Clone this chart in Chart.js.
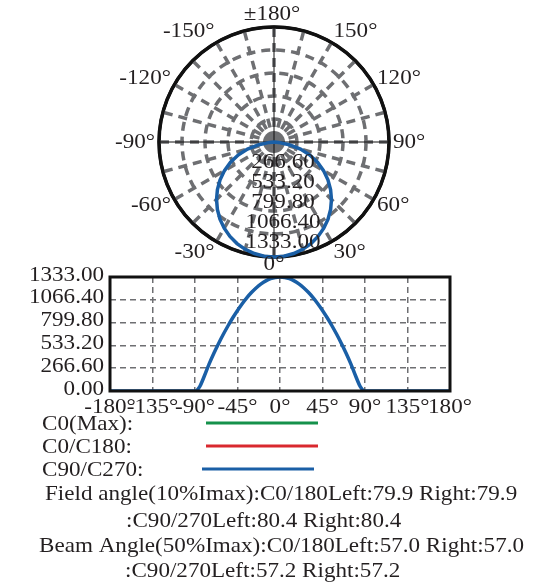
<!DOCTYPE html>
<html>
<head>
<meta charset="utf-8">
<script src="https://cdn.jsdelivr.net/npm/chart.js@4.4.0/dist/chart.umd.min.js"></script>
<style>
  html, body { margin: 0; padding: 0; background: #fff; }
  #wrap { position: relative; width: 556px; height: 582px; overflow: hidden; }
  canvas { position: absolute; left: 0; }
</style>
</head>
<body>
<div id="wrap">
  <canvas id="polar" width="556" height="272" style="top:0"></canvas>
  <canvas id="curve" width="556" height="322" style="top:260px"></canvas>
</div>
<script>
// gamma angles, degrees
const angles = [-180, -175, -170, -165, -160, -155, -150, -145, -140, -135, -130, -125, -120, -115, -110, -105, -100, -95,
  -90, -85, -80, -75, -70, -65, -60, -55, -50, -45, -40, -35, -30, -25, -20, -15, -10, -5,
  0, 5, 10, 15, 20, 25, 30, 35, 40, 45, 50, 55, 60, 65, 70, 75, 80, 85,
  90, 95, 100, 105, 110, 115, 120, 125, 130, 135, 140, 145, 150, 155, 160, 165, 170, 175, 180]

// intensity (cd)
const c90c270 = [0, 0, 0, 0, 0, 0, 0, 0, 0, 0, 0, 0, 0, 0, 0, 0, 0, 0,
  0, 52, 178, 318, 442, 556, 663, 763, 856, 942, 1021, 1092, 1154, 1208, 1253, 1288, 1313, 1328,
  1333, 1328, 1313, 1288, 1253, 1208, 1154, 1092, 1021, 942, 856, 763, 663, 556, 442, 318, 178, 52,
  0, 0, 0, 0, 0, 0, 0, 0, 0, 0, 0, 0, 0, 0, 0, 0, 0, 0, 0]
const c0c180 = [0, 0, 0, 0, 0, 0, 0, 0, 0, 0, 0, 0, 0, 0, 0, 0, 0, 0,
  0, 48, 173, 313, 437, 551, 658, 759, 854, 941, 1022, 1094, 1157, 1211, 1255, 1290, 1314, 1328,
  1333, 1328, 1314, 1290, 1255, 1211, 1157, 1094, 1022, 941, 854, 759, 658, 551, 437, 313, 173, 48,
  0, 0, 0, 0, 0, 0, 0, 0, 0, 0, 0, 0, 0, 0, 0, 0, 0, 0, 0]
const c0Max = c0c180

const valueTicks = [0, 266.6, 533.2, 799.8, 1066.4, 1333]
const angleTicks = [-180, -135, -90, -45, 0, 45, 90, 135, 180]

const seriesNames = ['C0(Max):', 'C0/C180:', 'C90/C270:']
const seriesColors = ['#15914b', '#d9282e', '#1a5fa6']

const footText = [
  'Field angle(10%Imax):C0/180Left:79.9 Right:79.9',
  ':C90/270Left:80.4 Right:80.4',
  'Beam Angle(50%Imax):C0/180Left:57.0 Right:57.0',
  ':C90/270Left:57.2 Right:57.2'
]

const grey = '#6e6f72'
const ink = '#231f20'
const FONT = '21px "Liberation Serif", "Times New Roman", serif'
const SX = 1.1

function textW(ctx, t) {
  ctx.font = FONT
  return ctx.measureText(t).width * SX
}
// stretched text, looks like the wide times of the original
function putText(ctx, t, x, y, align) {
  ctx.save()
  ctx.font = FONT
  ctx.fillStyle = ink
  ctx.textBaseline = 'middle'
  ctx.textAlign = 'left'
  let w = textW(ctx, t)
  let x0 = align === 'center' ? x - w / 2 : align === 'right' ? x - w : x
  ctx.translate(x0, y)
  ctx.scale(SX, 1)
  ctx.fillText(t, 0, 0)
  ctx.restore()
}

// ---------- polar ----------
// radar goes clockwise from the bottom: 0, -5 ... -180, 175 ... 5
const zeroAt = angles.indexOf(0)
const order = []
for (let i = zeroAt; i >= 0; i--) order.push(i)
for (let i = angles.length - 2; i > zeroAt; i--) order.push(i)
const polarLabels = order.map(i => Math.abs(angles[i]) === 180 ? '±180°' : angles[i] + '°')

const polarDeco = {
  id: 'polarDeco',
  beforeDatasetsDraw(chart) {
    const s = chart.scales.r, ctx = chart.ctx
    const R = s.drawingArea
    ctx.save()
    ctx.fillStyle = grey
    ctx.beginPath()
    ctx.arc(s.xCenter, s.yCenter, 11, 0, Math.PI * 2)
    ctx.fill()
    ctx.strokeStyle = '#111'
    ctx.lineWidth = 1
    ctx.beginPath()
    ctx.moveTo(s.xCenter - R, s.yCenter)
    ctx.lineTo(s.xCenter + R, s.yCenter)
    ctx.moveTo(s.xCenter, s.yCenter - R)
    ctx.lineTo(s.xCenter, s.yCenter + R)
    ctx.stroke()
    ctx.lineWidth = 3
    ctx.beginPath()
    ctx.arc(s.xCenter, s.yCenter, R, 0, Math.PI * 2)
    ctx.stroke()
    ctx.restore()
  },
  afterDraw(chart) {
    const s = chart.scales.r, ctx = chart.ctx
    chart.data.labels.forEach((lab, i) => {
      if (i % 6 !== 0) return
      const p = s.getPointPosition(i, s.drawingArea + 4)
      const dx = Math.cos(p.angle), dy = Math.sin(p.angle)
      let x = p.x, y = p.y + dy * 8.5
      let w = textW(ctx, lab)
      if (Math.abs(dx) > 0.05) x += dx > 0 ? w / 2 : -w / 2
      else if (dy > 0) y -= 5
      else x -= 2
      putText(ctx, lab, x, y, 'center')
    })
    valueTicks.forEach((v, k) => {
      if (!k) return
      const d = s.getDistanceFromCenterForValue(v)
      putText(ctx, v.toFixed(2), s.xCenter + 9, s.yCenter + d * 0.87, 'center')
    })
  }
}

const lastTick = valueTicks.length - 1
new Chart(document.getElementById('polar'), {
  type: 'radar',
  data: {
    labels: polarLabels,
    datasets: [
      {label: 'C90/C270', data: order.map(i => c90c270[i]), borderColor: seriesColors[2], borderWidth: 3.5},
      {label: 'C0/C180', data: order.map(i => c0c180[i]), borderColor: seriesColors[1], borderWidth: 1.5},
      {label: 'C0(Max)', data: order.map(i => c0Max[i]), borderColor: seriesColors[0], borderWidth: 1.5}
    ]
  },
  options: {
    responsive: false,
    animation: false,
    layout: {padding: {left: 159, top: 27, right: 167, bottom: 15}},
    elements: {point: {radius: 0}, line: {tension: 0, fill: false}},
    plugins: {legend: {display: false}, tooltip: {enabled: false}},
    scales: {
      r: {
        min: 0,
        max: 1333,
        startAngle: 180,
        afterBuildTicks: (s) => { s.ticks = valueTicks.map(v => ({value: v})) },
        ticks: {display: false},
        pointLabels: {display: false},
        grid: {
          circular: true,
          lineWidth: 3.5,
          color: (c) => c.index === lastTick ? '#111' : grey
        },
        border: {dash: (c) => c.index === lastTick ? [] : [9, 6]},
        angleLines: {
          color: grey,
          lineWidth: (c) => c.index % 3 === 0 ? 3.5 : 0,
          borderDash: [9, 6]
        }
      }
    }
  },
  plugins: [polarDeco]
})

// ---------- cartesian ----------
const curveDeco = {
  id: 'curveDeco',
  afterDraw(chart) {
    const ctx = chart.ctx, a = chart.chartArea
    const xs = chart.scales.x, ys = chart.scales.y
    ctx.save()
    ctx.strokeStyle = '#111'
    ctx.lineWidth = 3
    ctx.strokeRect(a.left, a.top, a.right - a.left, a.bottom - a.top)
    ctx.restore()

    valueTicks.forEach(v => putText(ctx, v.toFixed(2), a.left - 6, ys.getPixelForValue(v) - 2, 'right'))
    angleTicks.forEach(v => putText(ctx, v + '°', xs.getPixelForValue(v), a.bottom + 16, 'center'))

    // legend
    seriesNames.forEach((name, k) => {
      const y = a.bottom + 33 + k * 23
      putText(ctx, name, 42, y, 'left')
      ctx.save()
      ctx.strokeStyle = seriesColors[k]
      ctx.lineWidth = 3
      ctx.beginPath()
      ctx.moveTo(k === 2 ? 202 : 206, y - 1)
      ctx.lineTo(k === 2 ? 314 : 318, y - 1)
      ctx.stroke()
      ctx.restore()
    })

    const footX = [45, 126, 39, 125]
    const footY = [103, 130, 155, 180]
    footText.forEach((t, k) => putText(ctx, t, footX[k], a.bottom + footY[k], 'left'))
  }
}

const gridOpts = {color: grey, lineWidth: 1.5, drawTicks: false}
new Chart(document.getElementById('curve'), {
  type: 'line',
  data: {
    datasets: [
      {label: 'C90/C270', data: angles.map((g, i) => ({x: g, y: c90c270[i]})), borderColor: seriesColors[2], borderWidth: 3.5},
      {label: 'C0/C180', data: angles.map((g, i) => ({x: g, y: c0c180[i]})), borderColor: seriesColors[1], borderWidth: 1.5},
      {label: 'C0(Max)', data: angles.map((g, i) => ({x: g, y: c0Max[i]})), borderColor: seriesColors[0], borderWidth: 1.5}
    ]
  },
  options: {
    responsive: false,
    animation: false,
    layout: {padding: {left: 110, right: 106, top: 17, bottom: 191}},
    elements: {point: {radius: 0}, line: {cubicInterpolationMode: 'monotone', fill: false}},
    plugins: {legend: {display: false}, tooltip: {enabled: false}},
    scales: {
      x: {
        type: 'linear', min: -180, max: 180,
        afterBuildTicks: (s) => { s.ticks = angleTicks.map(v => ({value: v})) },
        ticks: {display: false},
        grid: gridOpts,
        border: {display: false, dash: [6, 4]}
      },
      y: {
        min: 0, max: 1333,
        afterBuildTicks: (s) => { s.ticks = valueTicks.map(v => ({value: v})) },
        ticks: {display: false},
        grid: gridOpts,
        border: {display: false, dash: [6, 4]}
      }
    }
  },
  plugins: [curveDeco]
})
</script>
</body>
</html>
